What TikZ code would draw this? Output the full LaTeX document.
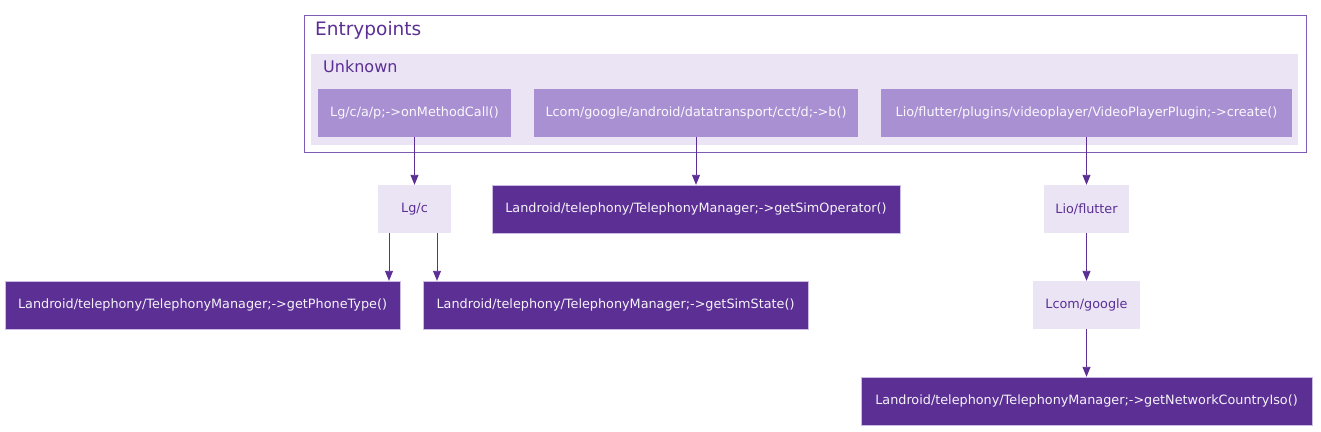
\documentclass[tikz,border=0pt]{standalone}
\usepackage{fontspec}
\setmainfont{DejaVu Sans}
\usepackage{xcolor}
\definecolor{callDark}{HTML}{5B2F94}
\definecolor{callPale}{HTML}{EBE4F5}
\definecolor{callMid}{HTML}{A990D2}
\definecolor{callLine}{HTML}{7E5BB5}
\usetikzlibrary{arrows.meta, positioning}
\tikzset{
  %% ── Boxes ────────────────────────────────────────────────────────────
  %% An entry point sits inside the clusters, a package is a pale step on
  %% the way, and the sensitive call is the dark box at the end.
  blocEntree/.style = {fill=callMid, text=white!94!callMid, draw=none,
                       font=\fontsize{12.8}{14}\selectfont, minimum height=48pt,
                       inner sep=0pt},
  blocPaquet/.style = {fill=callPale, text=callDark, draw=none,
                       font=\fontsize{12.8}{14}\selectfont, minimum height=48pt,
                       inner sep=0pt},
  blocAppel/.style  = {fill=callDark, text=white!94!callDark, draw=callMid!60,
                       line width=0.4pt, font=\fontsize{12.8}{14}\selectfont,
                       minimum height=48pt, inner sep=0pt},
  %%
  %% ── Clusters ─────────────────────────────────────────────────────────
  groupe/.style     = {draw=callLine, line width=1pt, fill=white},
  sousGroupe/.style = {draw=none, fill=callPale},
  titreGroupe/.style = {font=\fontsize{18.5}{20}\selectfont, text=callDark,
                       anchor=west, inner sep=0pt},
  %%
  %% ── Arrows ───────────────────────────────────────────────────────────
  fleche/.style     = {-{Triangle[length=10pt, width=8pt]}, draw=callDark,
                       line width=0.9pt},
}

\begin{document}
\begin{tikzpicture}[x=1pt, y=-1pt]
\useasboundingbox (0,0) rectangle (1321,431);

%% clusters
\draw[groupe] (304,15) rectangle (1306,152);
\node[titreGroupe] (entrypoints) at (315,30) {Entrypoints};
\fill[sousGroupe] (311,54) rectangle (1298,145);
\node[titreGroupe, font=\fontsize{16}{18}\selectfont] (unknown) at (323,67) {Unknown};

%% entry points
\node[blocEntree, minimum width=193pt] (onMethod) at (414.5,113) {Lg/c/a/p;->onMethodCall()};
\node[blocEntree, minimum width=324pt] (cctB) at (696,113) {Lcom/google/android/datatransport/cct/d;->b()};
\node[blocEntree, minimum width=411pt] (create) at (1086.5,113) {Lio/flutter/plugins/videoplayer/VideoPlayerPlugin;->create()};

%% packages
\node[blocPaquet, minimum width=73pt] (lgc) at (414.5,209) {Lg/c};
\node[blocPaquet, minimum width=85pt] (lioFlutter) at (1086.5,209) {Lio/flutter};
\node[blocPaquet, minimum width=107pt] (lcomGoogle) at (1086.5,305) {Lcom/google};

%% sensitive calls
\node[blocAppel, minimum width=408pt] (simOperator) at (696,209) {Landroid/telephony/TelephonyManager;->getSimOperator()};
\node[blocAppel, minimum width=395pt] (phoneType) at (202.5,305) {Landroid/telephony/TelephonyManager;->getPhoneType()};
\node[blocAppel, minimum width=385pt] (simState) at (615.5,305) {Landroid/telephony/TelephonyManager;->getSimState()};
\node[blocAppel, minimum width=451pt] (countryIso) at (1086.5,401) {Landroid/telephony/TelephonyManager;->getNetworkCountryIso()};

\draw[fleche] (onMethod) -- (lgc);
\draw[fleche] (cctB) -- (simOperator);
\draw[fleche] (create) -- (lioFlutter);
\draw[fleche] (lgc.south -| 389,0) -- (phoneType.north -| 389,0);
\draw[fleche] (lgc.south -| 437,0) -- (simState.north -| 437,0);
\draw[fleche] (lioFlutter) -- (lcomGoogle);
\draw[fleche] (lcomGoogle) -- (countryIso);

\end{tikzpicture}
\end{document}
